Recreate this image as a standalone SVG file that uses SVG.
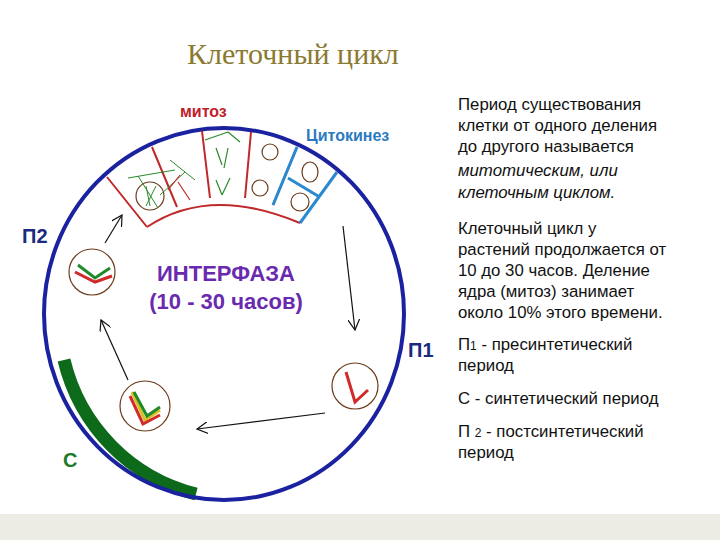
<svg xmlns="http://www.w3.org/2000/svg" width="720" height="540" viewBox="0 0 720 540">
<style>
.r{font-family:"Liberation Sans",Arial,sans-serif;font-size:16.8px;fill:#111}
.seg{fill:none;stroke:#c0282a;stroke-width:2}
.cyt{fill:none;stroke:#2a8ad0;stroke-width:3}
.cell{fill:none;stroke:#6b3a1a;stroke-width:1.2}
.arr{fill:none;stroke:#111;stroke-width:1.2}
</style>
<defs><marker id="a" viewBox="0 0 10 10" refX="9" refY="5" markerWidth="10" markerHeight="10" orient="auto"><path d="M0,0L9,5L0,10" fill="none" stroke="#111" stroke-width="1"/></marker></defs>
<rect width="720" height="540" fill="#fff"/>
<rect x="0" y="514" width="720" height="26" fill="#ecece4"/>
<text x="187" y="64" font-family="Liberation Serif,serif" font-size="30" fill="#8a7a30">Клеточный цикл</text>
<g id="cycle">
<path d="M64,360 A180,182 0 0 0 196,494" fill="none" stroke="#0d6a1a" stroke-width="13"/>
<ellipse cx="224" cy="314" rx="180" ry="186" fill="none" stroke="#1a22a0" stroke-width="4"/>
</g>
<g id="mitosis">
<path class="seg" d="M147,227 Q210,185 300,223"/>
<path class="seg" d="M107,177L147,227M152,147L177,207M202,131L210,198M251,132L245,198M297,147L273,205"/>
<path class="cyt" d="M297,147L273,205M337,172L300,223M288,178L318,196"/>
<circle cx="150" cy="196" r="14" class="cell" stroke="#2a6a1a"/>
<path d="M146,186L150,206M156,186L146,206M128,178L175,170M170,160L195,180M185,172L160,195M138,176L158,208" stroke="#2a8a2a" stroke-width="1" fill="none"/>
<path d="M178,182L190,200M168,190L180,175" stroke="#c0282a" stroke-width="1.2"/>
<path d="M216,148L222,165M228,148L224,168M216,180L222,195M230,178L222,195M228,132L205,140M228,132L240,142" stroke="#2a8a2a" stroke-width="1.2" fill="none"/>
<circle cx="270" cy="152" r="8" class="cell"/><circle cx="260" cy="188" r="8" class="cell"/>
<ellipse cx="310" cy="172" rx="8" ry="10" class="cell"/><circle cx="300" cy="202" r="9" class="cell"/>
</g>
<g id="cells">
<circle cx="92" cy="272" r="23" class="cell"/>
<path d="M78,265L95,278L110,268" stroke="#1f8a2a" stroke-width="3" fill="none"/>
<path d="M75,272L95,282L112,276" stroke="#d02a2a" stroke-width="3" fill="none"/>
<circle cx="145" cy="406" r="25" class="cell"/>
<path d="M132,392L145,420L160,410" stroke="#d8c020" stroke-width="3" fill="none"/>
<path d="M130,396L143,424L160,415" stroke="#d02a2a" stroke-width="3" fill="none"/>
<path d="M134,392L147,416L160,407" stroke="#1f8a2a" stroke-width="3" fill="none"/>
<circle cx="355" cy="386" r="23" class="cell"/>
<path d="M346,372L355,402L368,390" stroke="#d02a2a" stroke-width="3" fill="none"/>
</g>
<g id="connectors">
<path class="arr" d="M105,243L122,215" marker-end="url(#a)"/>
<path class="arr" d="M343,226L355,330" marker-end="url(#a)"/>
<path class="arr" d="M325,413L197,429" marker-end="url(#a)"/>
<path class="arr" d="M128,380L101,320" marker-end="url(#a)"/>
</g>
<g font-family="Liberation Sans,Arial,sans-serif" font-weight="bold">
<text x="180" y="117" font-size="16" fill="#c0202a">митоз</text>
<text x="306" y="141" font-size="16" fill="#2a7ac0">Цитокинез</text>
<text x="22" y="243" font-size="20" fill="#1a2a80">П2</text>
<text x="408" y="357" font-size="20" fill="#1a2a80">П1</text>
<text x="63" y="467" font-size="20" fill="#1f7a2a">С</text>
<text x="226" y="281" font-size="22" fill="#6a2ab0" text-anchor="middle">ИНТЕРФАЗА</text>
<text x="226" y="309" font-size="22" fill="#6a2ab0" text-anchor="middle">(10 - 30 часов)</text>
</g>
<g id="notes">
<text class="r" x="458" y="110">Период существования</text>
<text class="r" x="458" y="131">клетки от одного деления</text>
<text class="r" x="458" y="152">до другого называется</text>
<text class="r" x="458" y="176" font-style="italic" font-size="17.5">митотическим, или</text>
<text class="r" x="458" y="198" font-style="italic" font-size="17.5">клеточным циклом.</text>
<text class="r" x="458" y="234">Клеточный цикл у</text>
<text class="r" x="458" y="255">растений продолжается от</text>
<text class="r" x="458" y="276">10 до 30 часов. Деление</text>
<text class="r" x="458" y="297">ядра (митоз) занимает</text>
<text class="r" x="458" y="318">около 10% этого времени.</text>
<text class="r" x="458" y="350">П<tspan font-size="12">1</tspan> -  пресинтетический</text>
<text class="r" x="458" y="371">период</text>
<text class="r" x="458" y="404">С - синтетический период</text>
<text class="r" x="458" y="437">П <tspan font-size="12">2</tspan> -  постсинтетический</text>
<text class="r" x="458" y="458">период</text>
</g>
</svg>
